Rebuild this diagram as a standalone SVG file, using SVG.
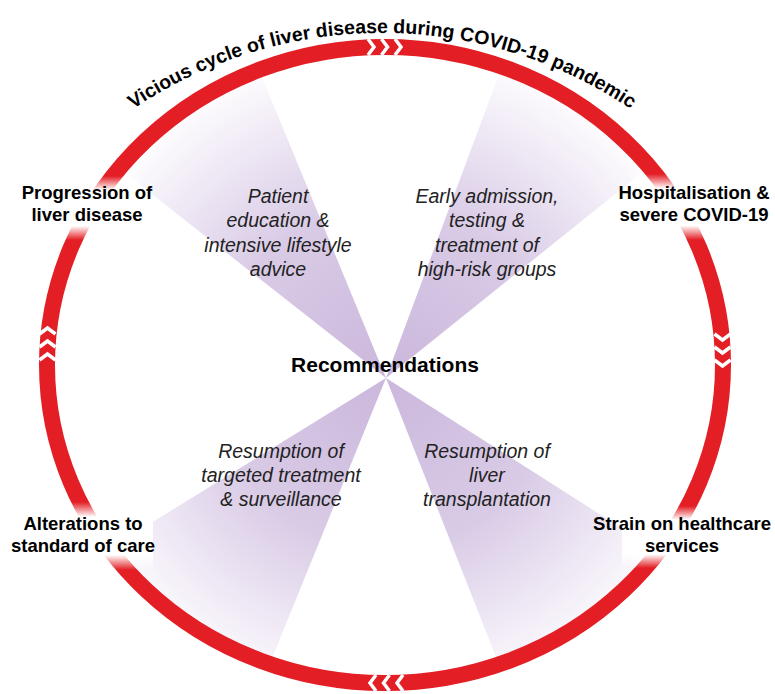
<svg xmlns="http://www.w3.org/2000/svg" xmlns:xlink="http://www.w3.org/1999/xlink" width="775" height="694" viewBox="0 0 775 694">
<style>
.lbl{font-family:"Liberation Sans",Arial,sans-serif;font-weight:bold;font-size:18.5px;fill:#000;text-anchor:middle}
.rec{font-family:"Liberation Sans",Arial,sans-serif;font-style:italic;font-size:19.5px;fill:#222;text-anchor:middle}
.title{font-family:"Liberation Sans",Arial,sans-serif;font-weight:bold;font-size:19.5px;fill:#000}
.chev{fill:none;stroke:#fff;stroke-width:3.5;stroke-linejoin:miter}
.wedge{fill:url(#wg)}
.bg{fill:url(#fade)}
</style>
<defs>
<radialGradient id="wg" gradientUnits="userSpaceOnUse" cx="386" cy="378" r="340">
<stop offset="0" stop-color="#cbb7dc"/>
<stop offset="0.5" stop-color="#d9cbe6"/>
<stop offset="0.85" stop-color="#f4eff8"/>
<stop offset="1" stop-color="#ffffff"/>
</radialGradient>
<linearGradient id="fade" x1="0" y1="0" x2="0" y2="1">
<stop offset="0" stop-color="#fff" stop-opacity="0"/>
<stop offset="0.22" stop-color="#fff" stop-opacity="1"/>
<stop offset="0.78" stop-color="#fff" stop-opacity="1"/>
<stop offset="1" stop-color="#fff" stop-opacity="0"/>
</linearGradient>
<clipPath id="inner"><ellipse cx="385" cy="365" rx="331" ry="311"/></clipPath>
<path id="tp" d="M -63 478 A 445 445 0 0 1 827 478"/>
<polyline id="chv" class="chev" points="-3,-8 3,0 -3,8"/>
</defs>
<rect width="775" height="694" fill="#fff"/>

<g id="wedges" clip-path="url(#inner)">
<polygon class="wedge" points="386,378 229,-3 88,144"/>
<polygon class="wedge" points="386,378 530,-9 690,134"/>
<polygon class="wedge" points="386,378 83,565 242,732"/>
<polygon class="wedge" points="386,378 703,580 528,738"/>
</g>

<g id="connectors">
<ellipse cx="385" cy="365" rx="338" ry="318" fill="none" stroke="#e31e24" stroke-width="16"/>
<g id="chev-top">
<use xlink:href="#chv" href="#chv" transform="translate(371,47)"/>
<use xlink:href="#chv" href="#chv" transform="translate(384.5,47)"/>
<use xlink:href="#chv" href="#chv" transform="translate(398,47)"/>
</g>
<g id="chev-right">
<use xlink:href="#chv" href="#chv" transform="translate(722.5,337) rotate(90)"/>
<use xlink:href="#chv" href="#chv" transform="translate(722.5,350) rotate(90)"/>
<use xlink:href="#chv" href="#chv" transform="translate(722.5,363) rotate(90)"/>
</g>
<g id="chev-bottom">
<use xlink:href="#chv" href="#chv" transform="translate(373,683) rotate(180)"/>
<use xlink:href="#chv" href="#chv" transform="translate(386.5,683) rotate(180)"/>
<use xlink:href="#chv" href="#chv" transform="translate(400,683) rotate(180)"/>
</g>
<g id="chev-left">
<use xlink:href="#chv" href="#chv" transform="translate(47.5,331) rotate(-90)"/>
<use xlink:href="#chv" href="#chv" transform="translate(47.5,344) rotate(-90)"/>
<use xlink:href="#chv" href="#chv" transform="translate(47.5,357) rotate(-90)"/>
</g>
</g>

<g id="title">
<text class="title"><textPath xlink:href="#tp" href="#tp" startOffset="50%" text-anchor="middle">Vicious cycle of liver disease during COVID-19 pandemic</textPath></text>
</g>

<g id="node-progression">
<rect class="bg" x="50" y="176" width="90" height="64"/>
<text class="lbl" x="87" y="199">Progression of</text>
<text class="lbl" x="87" y="221">liver disease</text>
</g>
<g id="node-hospitalisation">
<rect class="bg" x="635" y="174" width="85" height="66"/>
<text class="lbl" x="694" y="199">Hospitalisation &amp;</text>
<text class="lbl" x="694" y="221">severe COVID-19</text>
</g>
<g id="node-strain">
<rect class="bg" x="622" y="506" width="90" height="62"/>
<text class="lbl" x="682" y="530">Strain on healthcare</text>
<text class="lbl" x="682" y="552">services</text>
</g>
<g id="node-alterations">
<rect class="bg" x="58" y="502" width="95" height="68"/>
<text class="lbl" x="83" y="530">Alterations to</text>
<text class="lbl" x="83" y="552">standard of care</text>
</g>

<g id="node-recommendations">
<text class="lbl" x="385" y="372" style="font-size:21px">Recommendations</text>
</g>
<g id="rec-education">
<text class="rec" x="278" y="203">Patient</text>
<text class="rec" x="278" y="227">education &amp;</text>
<text class="rec" x="278" y="252">intensive lifestyle</text>
<text class="rec" x="278" y="276">advice</text>
</g>
<g id="rec-admission">
<text class="rec" x="487" y="203">Early admission,</text>
<text class="rec" x="487" y="227">testing &amp;</text>
<text class="rec" x="487" y="252">treatment of</text>
<text class="rec" x="487" y="276">high-risk groups</text>
</g>
<g id="rec-treatment">
<text class="rec" x="281" y="458">Resumption of</text>
<text class="rec" x="281" y="482">targeted treatment</text>
<text class="rec" x="281" y="506">&amp; surveillance</text>
</g>
<g id="rec-transplant">
<text class="rec" x="487" y="458">Resumption of</text>
<text class="rec" x="487" y="482">liver</text>
<text class="rec" x="487" y="506">transplantation</text>
</g>
</svg>
